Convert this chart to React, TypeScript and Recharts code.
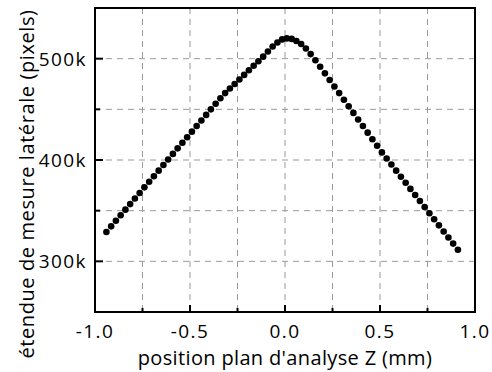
import {
  CartesianGrid,
  ReferenceArea,
  Scatter,
  ScatterChart,
  XAxis,
  YAxis,
} from "recharts";

// positions along Z (mm)
const zPositions = [
  -0.94, -0.915, -0.89, -0.865, -0.84, -0.815, -0.79, -0.765, -0.74, -0.715,
  -0.69, -0.665, -0.64, -0.615, -0.59, -0.565, -0.54, -0.515, -0.49, -0.465,
  -0.44, -0.415, -0.39, -0.365, -0.34, -0.315, -0.29, -0.265, -0.24, -0.215,
  -0.19, -0.165, -0.14, -0.115, -0.09, -0.065, -0.04, -0.015, 0.01, 0.035,
  0.06, 0.085, 0.11, 0.135, 0.16, 0.185, 0.21, 0.235, 0.26, 0.285,
  0.31, 0.335, 0.36, 0.385, 0.41, 0.435, 0.46, 0.485, 0.51, 0.535,
  0.56, 0.585, 0.61, 0.635, 0.66, 0.685, 0.71, 0.735, 0.76, 0.785,
  0.81, 0.835, 0.86, 0.885, 0.91,
];

// lateral extent, thousands of pixels
const extentK = [
  329, 334.5, 340, 345.5, 351, 356.5, 362, 367.5, 373, 378.5,
  384, 389.5, 395, 400.5, 406, 411.5, 417, 422.5, 428, 433.5,
  439, 444.5, 450, 455.5, 461, 466, 470.5, 475, 479.5, 484,
  488.5, 493, 497.5, 502, 507, 512, 516, 519, 520, 519.5,
  517.5, 514.5, 510, 504.5, 498.5, 492, 485.5, 479, 472.5, 466,
  459.5, 453, 446.5, 440, 433.5, 427, 420.5, 414, 407.5, 401.5,
  395.5, 389.5, 383.5, 377.5, 371.5, 365.5, 359.5, 353.5, 347.5, 341.5,
  335.5, 329.5, 323.5, 317.5, 311.5,
];

const xTicks = [-1, -0.75, -0.5, -0.25, 0, 0.25, 0.5, 0.75, 1];
const yTicks = [250000, 300000, 350000, 400000, 450000, 500000, 550000];

const X_TITLE = "position plan d'analyse Z (mm)";
const Y_TITLE = "étendue de mesure latérale (pixels)";

const data = zPositions.map((z, i) => ({ z, v: extentK[i] * 1000 }));

const FONT = "'Open Sans', sans-serif";

const tickText = {
  fontFamily: FONT,
  fontSize: 19,
  letterSpacing: 1.4,
  fill: "#000",
};

const XTick = ({ x, y, payload }: any) => {
  const v = payload.value;
  const major = Math.abs(v * 2 - Math.round(v * 2)) < 1e-6;
  const edge = v === -1 || v === 1;
  return (
    <g>
      {!edge && (
        <line x1={x} x2={x} y1={y} y2={y - (major ? 7 : 4)} stroke="#000" strokeWidth={2} />
      )}
      {major && (
        <text x={x} y={y + 19} textAnchor="middle" dominantBaseline="central" {...tickText}>
          {v.toFixed(1)}
        </text>
      )}
    </g>
  );
};

const YTick = ({ x, y, payload }: any) => {
  const v = payload.value;
  if (v === 250000 || v === 550000) return null;
  const major = v % 100000 === 0;
  return (
    <g>
      <line x1={x} x2={x + (major ? 8 : 5)} y1={y} y2={y} stroke="#000" strokeWidth={2} />
      {major && (
        <text x={x - 8} y={y} textAnchor="end" dominantBaseline="central" {...tickText}>
          {`${v / 1000}k`}
        </text>
      )}
    </g>
  );
};

export default function App() {
  return (
    <div style={{ position: "absolute", left: 0, top: 0, width: 492, height: 372, background: "#fff" }}>
      <ScatterChart width={492} height={372} margin={{ top: 8, right: 17, left: 0, bottom: 0 }}>
        <CartesianGrid stroke="#999" strokeDasharray="6 5" strokeWidth={1} />
        <XAxis
          type="number"
          dataKey="z"
          domain={[-1, 1]}
          ticks={xTicks}
          interval={0}
          height={60}
          axisLine={false}
          tickLine={false}
          tickSize={0}
          tickMargin={0}
          tick={<XTick />}
          allowDataOverflow
          label={{
            content: () => (
              <text x={285} y={357} textAnchor="middle" dominantBaseline="central"
                fontFamily={FONT} fontSize={20} letterSpacing={0.35} fill="#000">
                {X_TITLE}
              </text>
            ),
          }}
        />
        <YAxis
          type="number"
          dataKey="v"
          domain={[250000, 550000]}
          ticks={yTicks}
          interval={0}
          width={95}
          axisLine={false}
          tickLine={false}
          tickSize={0}
          tickMargin={0}
          tick={<YTick />}
          allowDataOverflow
          label={{
            content: () => (
              <text x={26} y={184} transform="rotate(-90 26 184)" textAnchor="middle"
                dominantBaseline="central" fontFamily={FONT} fontSize={20}
                letterSpacing={0.6} fill="#000">
                {Y_TITLE}
              </text>
            ),
          }}
        />
        <ReferenceArea x1={-1} x2={1} y1={250000} y2={550000} fill="none" stroke="#000" strokeWidth={2} ifOverflow="visible" />
        <Scatter
          data={data}
          fill="#000"
          isAnimationActive={false}
          shape={(p: any) => <circle cx={p.cx} cy={p.cy} r={3.3} fill="#000" />}
        />
      </ScatterChart>
    </div>
  );
}
